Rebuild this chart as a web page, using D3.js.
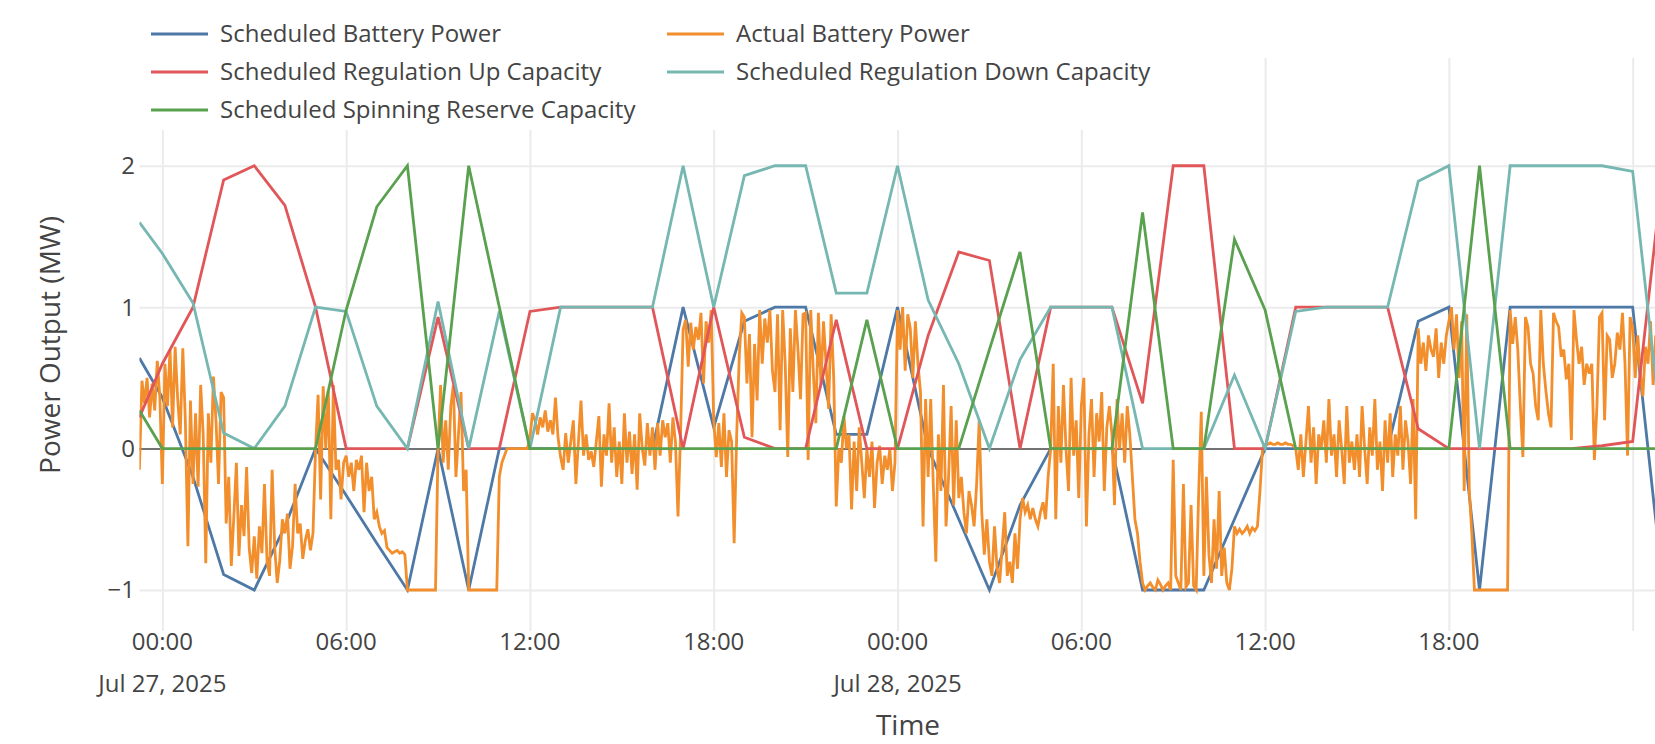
<!DOCTYPE html>
<html>
<head>
<meta charset="utf-8">
<title>Battery Schedule vs Actual</title>
<style>
  html, body { margin: 0; padding: 0; background: #fff; }
  svg { display: block; font-family: "Open Sans", "Noto Sans", sans-serif; }
</style>
</head>
<body>
<svg id="chart" width="1655" height="744"></svg>
<script src="https://d3js.org/d3.v7.min.js"></script>
<script>
// schedule: first sample at 23:15, then one value per hour 00:00 Jul 27 .. 01:00 Jul 29
const schedFirst = new Date(Date.UTC(2025, 6, 26, 23, 15));
const schedHourStart = new Date(Date.UTC(2025, 6, 27, 0, 0));
const schedHourEnd = new Date(Date.UTC(2025, 6, 29, 1, 0));

const scheduledBattery = [
  0.64,
  0.36, -0.2, -0.89, -1.0, -0.55, 0.0,      // 00-05
  -0.33, -0.67, -1.0, 0.0, -1.0, 0.0,       // 06-11
  0.0, 0.0, 0.0, 0.0, 0.0, 1.0,             // 12-17
  0.15, 0.9, 1.0, 1.0, 0.1, 0.1,            // 18-23
  1.0, 0.0, -0.5, -1.0, -0.4, 0.0,          // 00-05
  0.0, 0.0, -1.0, -1.0, -1.0, -0.5,         // 06-11
  0.0, 0.0, 0.0, 0.0, 0.0, 0.9,             // 12-17
  1.0, -1.0, 1.0, 1.0, 1.0, 1.0,            // 18-23
  1.0, -1.0                                 // 00-01
];
const scheduledRegUp = [
  0.22,
  0.6, 1.0, 1.9, 2.0, 1.72, 1.0,
  0.0, 0.0, 0.0, 0.93, 0.0, 0.0,
  0.97, 1.0, 1.0, 1.0, 1.0, 0.0,
  1.0, 0.08, 0.0, 0.0, 0.91, 0.0,
  0.0, 0.8, 1.39, 1.33, 0.0, 1.0,
  1.0, 1.0, 0.32, 2.0, 2.0, 0.0,
  0.0, 1.0, 1.0, 1.0, 1.0, 0.14,
  0.0, 0.0, 0.0, 0.0, 0.0, 0.02,
  0.05, 2.0
];
const scheduledRegDown = [
  1.6,
  1.38, 1.03, 0.11, 0.0, 0.3, 1.0,
  0.97, 0.3, 0.0, 1.04, 0.0, 0.97,
  0.0, 1.0, 1.0, 1.0, 1.0, 2.0,
  1.0, 1.93, 2.0, 2.0, 1.1, 1.1,
  2.0, 1.05, 0.6, 0.0, 0.63, 1.0,
  1.0, 1.0, 0.0, 0.0, 0.0, 0.52,
  0.0, 0.97, 1.0, 1.0, 1.0, 1.89,
  2.0, 0.0, 2.0, 2.0, 2.0, 2.0,
  1.96, 0.0
];
const scheduledSpinning = [
  0.27,
  0.0, 0.0, 0.0, 0.0, 0.0, 0.0,
  0.98, 1.71, 2.0, 0.0, 2.0, 1.0,
  0.0, 0.0, 0.0, 0.0, 0.0, 0.0,
  0.0, 0.0, 0.0, 0.0, 0.0, 0.91,
  0.0, 0.0, 0.0, 0.7, 1.39, 0.0,
  0.0, 0.0, 1.67, 0.0, 0.0, 1.48,
  0.98, 0.0, 0.0, 0.0, 0.0, 0.0,
  0.0, 2.0, 0.0, 0.0, 0.0, 0.0,
  0.0, 0.0
];

// actual battery power, 5-minute samples from 23:15 Jul 26
const actualStart = new Date(Date.UTC(2025, 6, 26, 23, 15));
const actualStepMin = 5;
const actualPower = [
  -0.15, 0.48, 0.32, 0.5, 0.22, 0.46, 0.27, 0.62, 0.37,
  -0.25, 0.6, 0.3, 0.7, 0.15, 0.72, 0.35, 0.1, 0.71, 0.2, -0.69, 0.34,
  -0.25, 0.25, -0.27, 0.45, 0.1, -0.81, 0.25, -0.1, 0.51, 0.2, -0.25, 0.4,
  0.36, -0.53, -0.2, -0.83, -0.48, -0.1, -0.76, -0.4, -0.62, -0.13, -0.7, -0.88,
  -0.62, -0.92, -0.55, -0.74, -0.25, -0.8, -0.9, -0.15, -0.7, -0.95, -0.79, -0.5,
  -0.6, -0.46, -0.85, -0.69, -0.25, -0.6, -0.53, -0.78, -0.65, -0.57, -0.72, -0.6,
  -0.01, 0.38, -0.36, 0.44, 0.0, 0.41, -0.5, 0.45, -0.15, -0.08, -0.36, -0.1,
  -0.05, -0.2, -0.1, -0.3, -0.08, -0.15, -0.05, -0.45, -0.1, -0.3, -0.2, -0.5,
  -0.45, -0.55, -0.6, -0.58, -0.7, -0.72, -0.74, -0.73, -0.72, -0.74, -0.73, -0.75,
  -1, -1, -1, -1, -1, -1, -1, -1, -1, -1, -1, -1,
  0.0, 0.45, -0.1, 0.2, -0.15, 0.3, 0.45, -0.2, 0.1, 0.4, -0.3, -0.15,
  -1, -1, -1, -1, -1, -1, -1, -1, -1, -1, -1, -1,
  -0.2, -0.1, -0.05, 0, 0, 0, 0, 0, 0, 0, 0, 0,
  0.08, 0.25, 0.2, 0.1, 0.22, 0.15, 0.27, 0.12, 0.2, 0.1, 0.36, 0.08,
  -0.06, -0.15, 0.11, -0.1, 0.05, 0.2, -0.25, 0.05, 0.34, -0.05, 0.1, -0.08,
  -0.02, -0.13, 0.05, 0.23, -0.27, 0.1, -0.05, 0.32, -0.1, 0.15, -0.2, 0.05,
  -0.25, 0.25, -0.1, 0.12, -0.18, 0.1, -0.29, 0.25, 0.0, -0.12, 0.18, -0.05,
  0.15, -0.15, 0.18, -0.05, 0.2, 0.08, 0.18, -0.1, 0.22, 0.05, -0.48, 0.1,
  0.84, 0.91, 0.58, 0.89, 0.7, 0.86, 0.77, 0.96, 0.46, 0.9, 0.75, 0.98,
  0.2, -0.06, 0.18, -0.13, 0.25, -0.2, 0.13, 0.05, -0.67, 0.1, 0.65, 0.96,
  0.93, 0.46, 0.81, 0.08, 0.74, 0.34, 0.98, 0.6, 0.92, 0.75, 0.98, 0.55,
  0.4, 0.95, 0.13, 0.98, 0.6, -0.06, 0.85, 0.4, 0.98, 0.7, 0.35, 0.95,
  0.96, -0.08, 0.98, 0.55, 0.18, 0.96, 0.45, 0.9, 0.6, 0.28, 0.95, 0.5,
  -0.41, 0.0, -0.1, 0.23, 0.0, 0.1, -0.43, 0.05, -0.3, 0.15, -0.1, -0.35,
  0.0, -0.2, 0.05, -0.42, -0.1, 0.02, -0.25, -0.05, -0.15, 0.0, -0.3, -0.1,
  0.98, 0.7, 1.0, 0.55, 0.95, 0.85, 0.5, 0.9, 0.6, 0.4, -0.55, 0.35,
  -0.2, 0.35, -0.25, -0.8, 0.1, -0.3, 0.45, -0.55, -0.2, 0.3, -0.4, 0.2,
  -0.35, -0.2, -0.45, -0.6, -0.3, -0.4, -0.55, -0.25, 0.2, -0.45, -0.75, -0.5,
  -0.8, -0.9, -0.55, -0.85, -0.95, -0.7, -0.45, -0.9, -0.8, -0.95, -0.6, -0.85,
  -0.5, -0.35, -0.45, -0.4, -0.5, -0.42, -0.5, -0.55, -0.45, -0.38, -0.5, -0.2,
  0.0, 0.6, -0.5, 0.3, -0.1, 0.45, 0.0, -0.3, 0.5, -0.05, 0.2, -0.35,
  0.3, 0.5, -0.55, 0.1, 0.35, -0.2, 0.25, 0.05, 0.4, -0.3, 0.15, 0.3,
  0.1, -0.4, 0.35, 0.0, 0.25, -0.1, 0.3, 0.1, -0.2, -0.5, -0.6, -0.8,
  -0.95, -1.0, -0.97, -0.95, -0.98, -1.0, -0.93, -0.96, -1.0, -0.97, -0.95, -1.0,
  -0.08, -0.9, -0.95, -1.0, -0.25, -0.98, -0.95, -0.4, -0.97, -1.0, -0.3, 0.26,
  -0.9, -0.2, -0.75, -0.95, -0.5, -0.85, -0.3, -0.9, -0.7, -0.95, -1.0, -0.85,
  -0.55, -0.6, -0.57, -0.6, -0.58, -0.55, -0.6, -0.56, -0.58, -0.55, -0.3, 0.0,
  0.03, 0.03, 0.04, 0.03, 0.03, 0.04, 0.03, 0.03, 0.04, 0.03, 0.03, 0.02,
  0.0, -0.15, 0.1, -0.2, 0.05, 0.3, -0.1, 0.15, -0.25, 0.1, 0.0, 0.2,
  -0.1, 0.35, -0.05, 0.1, -0.2, 0.2, 0.0, -0.25, 0.3, -0.1, 0.05, -0.15,
  0.1, -0.2, 0.3, 0.0, -0.25, 0.15, -0.05, 0.35, -0.15, 0.05, -0.3, 0.2,
  -0.1, 0.25, -0.2, 0.1, -0.05, 0.3, -0.15, 0.2, 0.05, -0.25, 0.35, -0.5,
  0.85, 0.6, 0.75, 0.55, 0.8, 0.7, 0.65, 0.85, 0.5, 0.75, 0.6, 0.8,
  0.9, 1.0, 0.7, 0.95, 0.5, 0.9, -0.3, 0.95, -0.3, -0.6, -1.0, -1.0,
  -1, -1, -1, -1, -1, -1, -1, -1, -1, -1, -1, -1,
  0.98, 0.74, 0.93, 0.7, 0.3, -0.06, 0.93, 0.86, 0.6, 0.53, 0.3, 0.2,
  0.98, 0.6, 0.41, 0.25, 0.15, 0.96, 0.9, 0.86, 0.65, 0.7, 0.49, 0.6,
  0.06, 0.98, 0.77, 0.6, 0.72, 0.45, 0.6, 0.53, 0.6, -0.08, 0.3, 0.93,
  0.96, 0.2, 0.8, 0.77, 0.5, 0.6, 0.82, 0.7, 0.96, 0.6, -0.05, 0.93,
  0.86, 0.5, 0.8, 0.53, 0.37, 0.72, 0.6, 0.9, 0.45, 0.8, 0.6, 0.7,
  0.8
];

const seriesNames = [
  "Scheduled Battery Power", "Actual Battery Power",
  "Scheduled Regulation Up Capacity", "Scheduled Regulation Down Capacity",
  "Scheduled Spinning Reserve Capacity"
];
const seriesColors = ["#4e79a7", "#f28e2b", "#e15759", "#76b7b2", "#59a14f"];
const yTicks = [-1, 0, 1, 2];

// ---- build series ----
const schedTimes = [schedFirst].concat(d3.utcHour.range(schedHourStart, d3.utcHour.offset(schedHourEnd, 1)));
const actualTimes = actualPower.map((_, i) => d3.utcMinute.offset(actualStart, i * actualStepMin));
const zip = (ts, vs) => vs.map((v, i) => ({ t: ts[i], v }));

const series = [
  zip(schedTimes, scheduledBattery),
  zip(actualTimes, actualPower),
  zip(schedTimes, scheduledRegUp),
  zip(schedTimes, scheduledRegDown),
  zip(schedTimes, scheduledSpinning)
];

const W = 1655, H = 744;
const plotL = 139.4, plotR = 1663.3, plotT = 58, plotB = 631;

const x = d3.scaleUtc()
  .domain([schedFirst, schedHourEnd])
  .range([plotL, plotR]);
const y = d3.scaleLinear()
  .domain([-1.29, 2.762])
  .range([plotB, plotT]);

const svg = d3.select("#chart");
const ink = "#444";

svg.append("defs").append("clipPath").attr("id", "plotclip")
  .append("rect").attr("x", plotL).attr("y", plotT)
  .attr("width", plotR - plotL).attr("height", plotB - plotT);

// gridlines
const xTickVals = d3.utcHour.every(6).range(schedHourStart, d3.utcHour.offset(schedHourEnd, 1));

const gx = svg.append("g")
  .attr("transform", `translate(0,${plotB})`)
  .call(d3.axisBottom(x).tickValues(xTickVals).tickSize(-(plotB - plotT)).tickFormat(""));
gx.select(".domain").remove();
gx.selectAll(".tick line").attr("stroke", "#ebebeb").attr("stroke-width", 2);

const gy = svg.append("g")
  .attr("transform", `translate(${plotL},0)`)
  .call(d3.axisLeft(y).tickValues(yTicks).tickSize(-(plotR - plotL)).tickFormat(""));
gy.select(".domain").remove();
gy.selectAll(".tick line")
  .attr("stroke", d => d === 0 ? ink : "#ebebeb")
  .attr("stroke-width", d => d === 0 ? 1.5 : 2);

// tick labels
const fmtTime = d3.utcFormat("%H:%M");
const fmtDate = d3.utcFormat("%b %-d, %Y");
const xl = svg.append("g").attr("font-size", 24).attr("fill", ink).attr("text-anchor", "middle");
xTickVals.filter(d => x(d) + 40 < W).forEach(d => {
  xl.append("text").attr("x", x(d)).attr("y", 642).attr("dy", "0.35em").text(fmtTime(d));
  if (d.getUTCHours() === 0) {
    xl.append("text").attr("x", x(d)).attr("y", 684).attr("dy", "0.35em").text(fmtDate(d));
  }
});

const yl = svg.append("g").attr("font-size", 24).attr("fill", ink).attr("text-anchor", "end");
yTicks.forEach(v => {
  yl.append("text").attr("x", 135).attr("y", y(v)).attr("dy", "0.35em")
    .text(v < 0 ? "\u2212" + Math.abs(v) : String(v));
});

// axis titles
svg.append("text").attr("x", 908).attr("y", 725).attr("dy", "0.35em")
  .attr("text-anchor", "middle").attr("font-size", 28).attr("fill", ink).text("Time");
svg.append("text").attr("transform", "translate(50,345) rotate(-90)").attr("dy", "0.35em")
  .attr("text-anchor", "middle").attr("font-size", 28).attr("fill", ink).text("Power Output (MW)");

// lines
const line = d3.line().x(d => x(d.t)).y(d => y(d.v));
const plot = svg.append("g").attr("clip-path", "url(#plotclip)");
series.forEach((s, i) => {
  plot.append("path").datum(s)
    .attr("fill", "none")
    .attr("stroke", seriesColors[i])
    .attr("stroke-width", 2.8)
    .attr("d", line);
});

// legend
const legend = svg.append("g");
legend.append("rect").attr("x", plotL).attr("y", 6).attr("width", 1030).attr("height", 124).attr("fill", "#fff");
seriesNames.forEach((name, i) => {
  const cx = 151 + (i % 2) * 516;
  const cy = 34 + Math.floor(i / 2) * 38;
  legend.append("line").attr("x1", cx).attr("x2", cx + 57).attr("y1", cy).attr("y2", cy)
    .attr("stroke", seriesColors[i]).attr("stroke-width", 2.8);
  legend.append("text").attr("x", cx + 69).attr("y", cy).attr("dy", "0.35em")
    .attr("font-size", 24).attr("fill", ink).text(name);
});
</script>
</body>
</html>
